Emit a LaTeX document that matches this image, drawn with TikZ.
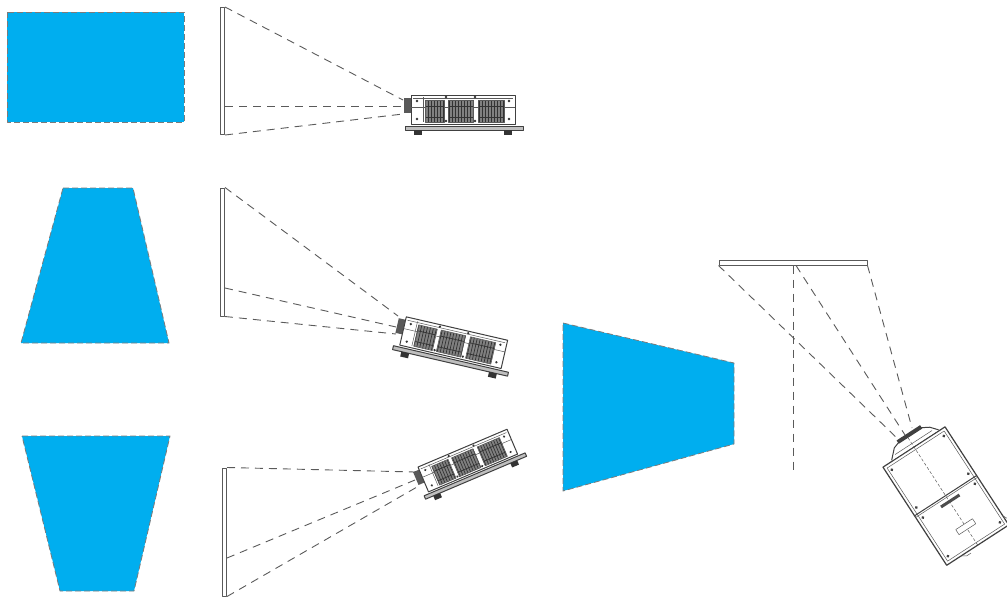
\documentclass[tikz,border=0pt]{standalone}
\usepackage{xcolor}
\usetikzlibrary{positioning}
\definecolor{screenblue}{HTML}{00AEEF}
\definecolor{inkgray}{HTML}{5A5A5A}

\begin{document}
\begin{tikzpicture}[x=1pt, y=-1pt, line join=round]
\tikzset{
  image/.style={fill=screenblue, draw=inkgray!80, line width=0.8pt, dash pattern=on 6pt off 3pt},
  wall/.style={draw=inkgray, fill=white, line width=1pt, inner sep=0pt},
  beam/.style={draw=inkgray, line width=0.9pt, dash pattern=on 8pt off 6pt},
  case/.style={draw=black!75, line width=1pt},
  thin case/.style={draw=inkgray, line width=0.5pt},
  projector/.pic={
    % side view, origin at the front of the lens
    \fill[black!65] (0,-8) rectangle (7,7);
    \draw[case, fill=white] (7,-11) rectangle (111,18);
    \draw[thin case] (9,-8) -- (109,-8);
    \draw[thin case] (19,-9) -- (19,16);
    \draw[thin case] (7,1) -- (111,1);
    \foreach \xa/\xb in {21/40, 44/69, 74/100} {
      \fill[black!50] (\xa,-6) rectangle (\xb,16);
      \draw[black!80, line width=0.7pt, xstep=3pt, ystep=11pt] (\xa,-6) grid (\xb,16);
      \draw[thin case] (\xa,-6) rectangle (\xb,16);
    }
    \foreach \xa/\ya in {13/-5, 13/13, 105/-5, 105/13, 42/-9, 71/-9, 42/15, 71/15}
      \fill[black!80] (\xa,\ya) circle (1.3pt);
    \draw[case, fill=black!25] (1,20) rectangle (119,24);
    \fill[black!80] (10,24) rectangle (18,29);
    \fill[black!80] (100,24) rectangle (108,29);
  },
  topview/.pic={
    % seen from above, origin at the middle of the lens end of the case
    \draw[case, fill=white, line width=1.2pt] (-37,0) rectangle (37,117);
    \draw[thin case] (-34,3) rectangle (34,114);
    \draw[case] (-37,58) -- (37,58);
    \draw[thin case] (-37,60) -- (37,60);
    \draw[case, fill=white] (-26,-1) -- (-17,-10) -- (-11,-12) -- (17,-12) -- (24,-8) -- (30,-1);
    \draw[thin case] (-20,-4) -- (24,-4);
    \fill[black!75] (-11,-15) rectangle (17,-11);
    \draw[thin case, densely dashed] (0,-11) -- (0,117);
    \draw[thin case, fill=white] (-10,92) rectangle (10,98);
    \fill[black!70] (-10,63.5) rectangle (12,66.5);
    \foreach \xa/\ya in {-31/7, -31/52, -31/64, -31/110, 31/7, 31/52, 31/64, 31/110}
      \fill[black!75] (\xa,\ya) circle (1.6pt);
    \draw[thin case] (-20,117) -- (-15,120) -- (-10,120);
    \draw[thin case] (37,106) -- (40,112) -- (40,117);
  }
}
\useasboundingbox (0,0) rectangle (1007,597);

% projected images
\path[image] (7,12) rectangle (184,122);
\path[image] (63,188) -- (133,188) -- (169,343) -- (21,343) -- cycle;
\path[image] (22,436) -- (170,436) -- (134,591) -- (60,591) -- cycle;
\path[image] (563,323) -- (734,363) -- (734,444) -- (563,491) -- cycle;

% screens
\node[wall, minimum width=4pt, minimum height=127pt] (wallA) at (222.5,71) {};
\node[wall, minimum width=4pt, minimum height=128pt] (wallB) at (222.5,252) {};
\node[wall, minimum width=4pt, minimum height=128pt] (wallC) at (224.5,532) {};
\node[wall, minimum width=148pt, minimum height=5pt] (wallD) at (793,262.5) {};

% projectors
\pic[rotate=0] at (404,106) {projector};
\pic[rotate=-13] at (397,326) {projector};
\pic[rotate=23, scale=0.93] at (416,479) {projector};
\pic[rotate=33] at (914,447) {topview};

\coordinate (lensA1) at (403,100);
\coordinate (lensA2) at (403,106);
\coordinate (lensA3) at (403,114);
\coordinate (lensB1) at (398,316);
\coordinate (lensB2) at (396,327);
\coordinate (lensB3) at (396,334);
\coordinate (lensC1) at (415,472);
\coordinate (lensC2) at (415,480);
\coordinate (lensC3) at (417,487);
\coordinate (lensD1) at (900,441);
\coordinate (lensD2) at (905,435);
\coordinate (lensD3) at (912,428);
\coordinate (axisD) at (793,470);

% light paths
\draw[beam] (wallA.north east) -- (lensA1);
\draw[beam] (wallA.east) ++(0,35) -- (lensA2);
\draw[beam] (wallA.south east) -- (lensA3);
\draw[beam] (wallB.north east) -- (lensB1);
\draw[beam] (wallB.east) ++(0,36) -- (lensB2);
\draw[beam] (wallB.south east) -- (lensB3);
\draw[beam] (wallC.north east) -- (lensC1);
\draw[beam] (wallC.east) ++(0,26) -- (lensC2);
\draw[beam] (wallC.south east) -- (lensC3);
\draw[beam] (wallD.south west) -- (lensD1);
\draw[beam] (wallD.south) ++(3,0) -- (lensD2);
\draw[beam] (wallD.south east) -- (lensD3);
\draw[beam] (wallD.south) -- (axisD);
\end{tikzpicture}
\end{document}
